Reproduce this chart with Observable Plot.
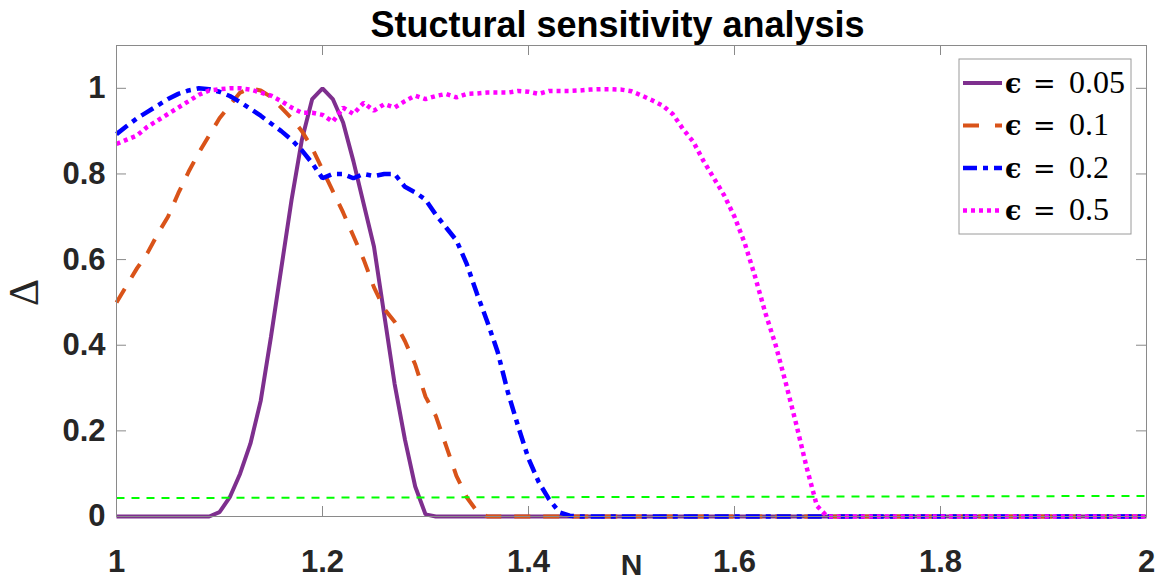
<!DOCTYPE html>
<html>
<head>
<meta charset="utf-8">
<script src="https://cdn.jsdelivr.net/npm/d3@7"></script>
<script src="https://cdn.jsdelivr.net/npm/@observablehq/plot@0.6"></script>
<style>
  html, body { margin: 0; padding: 0; background: #fff; }
</style>
</head>
<body>
<div id="chart"></div>
<script>
// ---- Data ----
const titleText = "Stuctural sensitivity analysis";
const xLabelText = "N";
const yLabelText = "Δ";

const xTicks = [1, 1.2, 1.4, 1.6, 1.8, 2];
const xTickLabels = ["1", "1.2", "1.4", "1.6", "1.8", "2"];
const yTicks = [0, 0.2, 0.4, 0.6, 0.8, 1];
const yTickLabels = ["0", "0.2", "0.4", "0.6", "0.8", "1"];

const seriesNames = ["0.05", "0.1", "0.2", "0.5"];

// ε = 0.05
const nEps005 = [1.00, 1.09, 1.10, 1.11, 1.12, 1.13, 1.14, 1.15, 1.16, 1.17, 1.18, 1.19, 1.20, 1.21, 1.22, 1.23, 1.24, 1.25, 1.26, 1.27, 1.28, 1.29, 1.30, 1.31, 2.00];
const dEps005 = [0, 0, 0.01, 0.045, 0.10, 0.17, 0.27, 0.42, 0.58, 0.74, 0.88, 0.975, 1.0, 0.975, 0.92, 0.83, 0.73, 0.63, 0.47, 0.31, 0.18, 0.07, 0.005, 0, 0];

// ε = 0.1
const nEps01 = [1.00, 1.01, 1.02, 1.03, 1.04, 1.05, 1.06, 1.07, 1.08, 1.09, 1.10, 1.11, 1.12, 1.13, 1.14, 1.15, 1.16, 1.17, 1.18, 1.19, 1.20, 1.21, 1.22, 1.23, 1.24, 1.25, 1.26, 1.27, 1.28, 1.29, 1.30, 1.31, 1.32, 1.33, 1.34, 1.35, 1.36, 2.00];
const dEps01 = [0.50, 0.54, 0.58, 0.615, 0.66, 0.70, 0.755, 0.805, 0.85, 0.89, 0.93, 0.96, 0.99, 1.0, 0.995, 0.98, 0.955, 0.93, 0.90, 0.86, 0.81, 0.76, 0.71, 0.655, 0.60, 0.535, 0.485, 0.455, 0.41, 0.355, 0.28, 0.235, 0.165, 0.095, 0.045, 0.012, 0, 0];

// ε = 0.2
const nEps02 = [1.00, 1.01, 1.02, 1.03, 1.04, 1.05, 1.06, 1.07, 1.08, 1.09, 1.10, 1.11, 1.12, 1.13, 1.14, 1.15, 1.16, 1.17, 1.18, 1.19, 1.20, 1.21, 1.22, 1.23, 1.24, 1.25, 1.26, 1.27, 1.28, 1.29, 1.30, 1.31, 1.32, 1.33, 1.34, 1.35, 1.36, 1.37, 1.38, 1.39, 1.40, 1.41, 1.42, 1.43, 1.44, 1.45, 2.00];
const dEps02 = [0.893, 0.912, 0.93, 0.945, 0.96, 0.975, 0.987, 0.995, 1.0, 0.998, 0.992, 0.982, 0.968, 0.952, 0.936, 0.918, 0.90, 0.88, 0.855, 0.825, 0.79, 0.80, 0.80, 0.79, 0.80, 0.795, 0.80, 0.80, 0.77, 0.757, 0.74, 0.705, 0.675, 0.645, 0.59, 0.52, 0.455, 0.385, 0.29, 0.21, 0.135, 0.08, 0.04, 0.01, 0.002, 0, 0];

// ε = 0.5
const nEps05 = [1.00, 1.01, 1.02, 1.03, 1.04, 1.05, 1.06, 1.07, 1.08, 1.09, 1.10, 1.11, 1.12, 1.13, 1.14, 1.15, 1.16, 1.17, 1.18, 1.19, 1.20, 1.21, 1.22, 1.23, 1.24, 1.25, 1.26, 1.27, 1.28, 1.29, 1.30, 1.31, 1.32, 1.33, 1.34, 1.35, 1.36, 1.37, 1.38, 1.39, 1.40, 1.41, 1.42, 1.43, 1.44, 1.45, 1.46, 1.47, 1.48, 1.49, 1.50, 1.51, 1.52, 1.53, 1.54, 1.55, 1.56, 1.57, 1.58, 1.59, 1.60, 1.61, 1.62, 1.63, 1.64, 1.65, 1.66, 1.67, 1.68, 1.69, 2.00];
const dEps05 = [0.87, 0.88, 0.89, 0.91, 0.925, 0.94, 0.955, 0.97, 0.985, 0.995, 0.998, 1.0, 1.0, 0.997, 0.99, 0.983, 0.97, 0.955, 0.943, 0.943, 0.938, 0.922, 0.955, 0.94, 0.966, 0.948, 0.963, 0.955, 0.97, 0.983, 0.975, 0.982, 0.987, 0.979, 0.987, 0.988, 0.99, 0.99, 0.99, 0.994, 0.992, 0.987, 0.994, 0.994, 0.994, 0.995, 0.997, 0.998, 0.998, 0.997, 0.993, 0.983, 0.972, 0.96, 0.94, 0.905, 0.875, 0.83, 0.79, 0.75, 0.70, 0.638, 0.56, 0.475, 0.40, 0.31, 0.215, 0.115, 0.025, 0, 0];

// threshold line
const nThreshold = [1, 2];
const dThreshold = [0.043, 0.048];

// ---- Build tables ----
const toRows = (ns, ds) => ns.map((n, i) => ({N: n, D: ds[i]}));
const styles = [
  {color: "#7E2F8E", width: 4, dash: null},
  {color: "#D95319", width: 4, dash: "16,13"},
  {color: "#0000FF", width: 4.5, dash: "14,6,5,6"},
  {color: "#FF00FF", width: 4.5, dash: "4,4"}
];
const seriesRows = [
  toRows(nEps005, dEps005),
  toRows(nEps01, dEps01),
  toRows(nEps02, dEps02),
  toRows(nEps05, dEps05)
];

const W = 1158, H = 582;
const mL = 116, mR = 12, mT = 45, mB = 66;
const frameW = W - mL - mR, frameH = H - mT - mB;
const axisColor = "#8a8a8a";
const tickLen = 10;

const lineMarks = seriesRows.map((rows, i) => Plot.line(rows, {
  x: "N", y: "D",
  stroke: styles[i].color,
  strokeWidth: styles[i].width,
  strokeDasharray: styles[i].dash,
  strokeLinecap: "butt",
  strokeLinejoin: "miter"
}));

const chart = Plot.plot({
  width: W, height: H,
  marginLeft: mL, marginRight: mR, marginTop: mT, marginBottom: mB,
  style: {background: "#fff", fontFamily: "'Liberation Sans', Arial, sans-serif", overflow: "visible"},
  x: {domain: [1, 2], ticks: xTicks},
  y: {domain: [0, 1.1], ticks: yTicks},
  marks: [
    // inward ticks on all four sides
    Plot.ruleX(xTicks, {stroke: axisColor, strokeWidth: 1, insetTop: frameH - tickLen}),
    Plot.ruleX(xTicks, {stroke: axisColor, strokeWidth: 1, insetBottom: frameH - tickLen}),
    Plot.ruleY(yTicks, {stroke: axisColor, strokeWidth: 1, insetRight: frameW - tickLen}),
    Plot.ruleY(yTicks, {stroke: axisColor, strokeWidth: 1, insetLeft: frameW - tickLen}),
    Plot.axisX(xTicks, {tickSize: 0, tickPadding: 33, fontSize: 31, fontWeight: "bold", fill: "#262626", label: null,
      tickFormat: (d, i) => xTickLabels[i]}),
    Plot.axisY(yTicks, {tickSize: 0, tickPadding: 11, fontSize: 31, fontWeight: "bold", fill: "#262626", label: null,
      tickFormat: (d, i) => yTickLabels[i]}),
    ...lineMarks,
    Plot.line(toRows(nThreshold, dThreshold), {x: "N", y: "D", stroke: "#00FF00", strokeWidth: 2, strokeDasharray: "8,7", strokeLinecap: "butt"}),
    Plot.frame({stroke: axisColor, strokeWidth: 1}),
    // title
    Plot.text([titleText], {frameAnchor: "top", lineAnchor: "bottom", dx: -14, dy: -9, fontSize: 36, fontWeight: "bold", fill: "#000"}),
    // x label
    Plot.text([xLabelText], {frameAnchor: "bottom", lineAnchor: "top", dy: 37, fontSize: 30, fontWeight: "bold", fill: "#262626"}),
    // y label (rotated)
    Plot.text([yLabelText], {frameAnchor: "left", rotate: -90, dx: -92, dy: 25, fontSize: 42, fontFamily: "'Liberation Serif', 'DejaVu Serif', serif", fill: "#262626"})
  ]
});

document.getElementById("chart").appendChild(chart);

// ---- Legend (layout only) ----
const svg = d3.select(chart);
const lg = svg.append("g").attr("class", "legend").attr("text-anchor", "start");
lg.append("rect").attr("x", 959).attr("y", 59).attr("width", 172).attr("height", 175)
  .attr("fill", "#fff").attr("stroke", "#9a9a9a").attr("stroke-width", 1);
seriesNames.forEach((name, i) => {
  const cy = 83 + i * 42.5;
  lg.append("line").attr("x1", 963).attr("x2", 1002).attr("y1", cy).attr("y2", cy)
    .attr("stroke", styles[i].color).attr("stroke-width", styles[i].width)
    .attr("stroke-dasharray", i === 1 ? "16,16" : styles[i].dash)
    .attr("stroke-linecap", "butt");
  lg.append("text").attr("x", 1005).attr("y", cy + 9.5).attr("text-anchor", "start")
    .attr("font-family", "'DejaVu Serif', serif").attr("font-weight", "bold")
    .attr("font-size", 27).attr("fill", "#000").text("ϵ");
  lg.append("text").attr("x", 1033).attr("y", cy + 9.5).attr("text-anchor", "start")
    .attr("font-family", "'DejaVu Serif', serif")
    .attr("font-size", 27).attr("fill", "#000").text("=");
  lg.append("text").attr("x", 1069).attr("y", cy + 9.5).attr("text-anchor", "start")
    .attr("font-family", "'Liberation Serif', serif")
    .attr("font-size", 32).attr("fill", "#000").text(name);
});
</script>
</body>
</html>
